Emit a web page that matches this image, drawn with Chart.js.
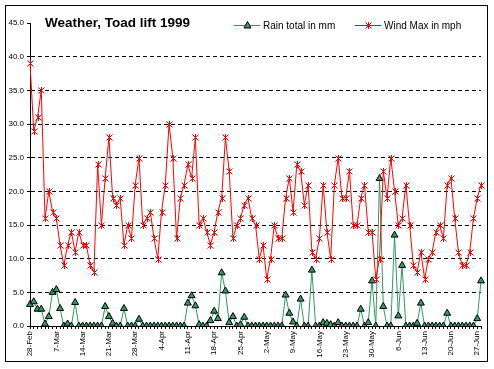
<!DOCTYPE html>
<html>
<head>
<meta charset="utf-8">
<script src="https://cdn.jsdelivr.net/npm/chart.js@4"></script>
<style>
  html, body { margin: 0; padding: 0; background: #fff; }
  canvas { display: block; }
</style>
</head>
<body>
<canvas id="weather" width="494" height="369" style="width:494px;height:369px"></canvas>
<script>
// daily readings, 28-Feb to 28-Jun 1999
const windMax = [39,29,31,35,16,20,17,16,12,9, 12,14,11,14,12,12,9,8,24,15,
  22,28,19,18,19,12,15,13,21,25, 15,16,17,13,10,17,21,30,25,13,
  19,21,24,22,28,15,16,14,12,14, 17,19,28,23,13,15,16,18,19,16,
  15,10,12,7,10,15,13,13,19,22, 17,24,23,18,21,11,10,13,21,14,
  10,21,25,19,19,23,15,15,19,21, 14,14,7,10,23,19,25,20,15,16,
  21,15,9,8,11,7,10,11,14,15, 13,21,22,16,11,9,9,11,16,19, 21];

const rainTotal = [3.2,3.6,2.5,2.5,0.3,1.4,5.0,5.4,2.6,0, 0.3,0,3.5,0,0,0,0,0,0,0,
  2.9,1.4,0.4,0,0,2.6,0,0,0,1.0, 0,0,0,0,0,0,0,0,0,0,
  0,0,3.4,4.5,3.0,0.2,0,0,0.8,2.2, 1.1,7.9,5.2,0.5,1.4,0,0.2,1.3,0,0,
  0,0,0,0,0,0,0,0,4.6,1.9, 0.6,0,4.0,0,0,8.3,0,0,0.5,0.4,
  0.2,0,0.5,0,0,0,0,0,2.5,0, 0.5,6.7,0,21.9,2.9,0,0,13.5,1.5,9.0,
  0,0,0,0.4,3.4,0,0,0,0,0, 0,1.9,0,0,0,0,0,0,0,1.1, 6.7];

const tickLabels = ['28-Feb','7-Mar','14-Mar','21-Mar','28-Mar','4-Apr','11-Apr','18-Apr','25-Apr',
  '2-May','9-May','16-May','23-May','30-May','6-Jun','13-Jun','20-Jun','27-Jun'];

const monthNames = ['Jan','Feb','Mar','Apr','May','Jun','Jul'];
const days = windMax.map((v, i) => {
  const d = new Date(1999, 1, 28 + i);
  return d.getDate() + '-' + monthNames[d.getMonth()];
});

const FONT = 'Arial, "Liberation Sans", sans-serif';
const GREEN = '#339966';
const RED = '#ff0000';

// excel style star marker: x with a vertical bar
function star(ctx, x, y) {
  x = Math.round(x) + 0.5;
  y = Math.round(y) + 0.5;
  ctx.beginPath();
  ctx.moveTo(x - 3, y - 3); ctx.lineTo(x + 3, y + 3);
  ctx.moveTo(x + 3, y - 3); ctx.lineTo(x - 3, y + 3);
  ctx.moveTo(x, y - 3.5); ctx.lineTo(x, y + 3.5);
  ctx.strokeStyle = RED;
  ctx.lineWidth = 1;
  ctx.stroke();
}

function triangle(ctx, x, y) {
  ctx.beginPath();
  ctx.moveTo(x, y - 4);
  ctx.lineTo(x + 3.5, y + 2.5);
  ctx.lineTo(x - 3.5, y + 2.5);
  ctx.closePath();
  ctx.fillStyle = GREEN;
  ctx.fill();
  ctx.strokeStyle = '#000';
  ctx.lineWidth = 1;
  ctx.stroke();
}

const decor = {
  id: 'decor',
  beforeDraw(chart) {
    const ctx = chart.ctx;
    ctx.save();
    ctx.fillStyle = '#fff';
    ctx.fillRect(0, 0, chart.width, chart.height);
    ctx.strokeStyle = '#000';
    ctx.lineWidth = 1;
    ctx.strokeRect(5.5, 5.5, 482, 356);
    ctx.restore();
  },
  afterDatasetsDraw(chart) {
    const ctx = chart.ctx;
    ctx.save();
    chart.getDatasetMeta(0).data.forEach((pt) => star(ctx, pt.x, pt.y));
    ctx.restore();
  },
  afterDraw(chart) {
    const ctx = chart.ctx;
    ctx.save();
    ctx.fillStyle = '#000';
    ctx.font = 'bold 13.5px ' + FONT;
    ctx.textBaseline = 'alphabetic';
    ctx.fillText('Weather, Toad lift 1999', 45, 27);

    ctx.font = '10px ' + FONT;
    ctx.textBaseline = 'middle';
    ctx.lineWidth = 1;
    // rain sample
    ctx.strokeStyle = GREEN;
    ctx.beginPath(); ctx.moveTo(234, 25.5); ctx.lineTo(260, 25.5); ctx.stroke();
    triangle(ctx, 247.5, 25.5);
    ctx.fillStyle = '#000';
    ctx.fillText(chart.data.datasets[1].label, 263, 26);
    // wind sample
    ctx.strokeStyle = RED;
    ctx.beginPath(); ctx.moveTo(355, 25.5); ctx.lineTo(381, 25.5); ctx.stroke();
    star(ctx, 368, 25);
    ctx.fillStyle = '#000';
    ctx.fillText(chart.data.datasets[0].label, 384, 26);
    ctx.restore();
  }
};

new Chart(document.getElementById('weather'), {
  type: 'line',
  data: {
    labels: days,
    datasets: [{
      label: 'Wind Max in mph',
      data: windMax,
      borderColor: RED,
      borderWidth: 1,
      pointRadius: 0,
      tension: 0,
      order: 0
    }, {
      label: 'Rain total in mm',
      data: rainTotal,
      borderColor: GREEN,
      borderWidth: 1,
      pointStyle: 'triangle',
      pointRadius: 4,
      pointBackgroundColor: GREEN,
      pointBorderColor: '#000',
      pointBorderWidth: 1,
      tension: 0,
      order: 1
    }]
  },
  options: {
    responsive: false,
    animation: false,
    events: [],
    layout: { padding: { left: 0, top: 23, right: 13, bottom: 0 } },
    plugins: {
      legend: { display: false },
      title: { display: false },
      tooltip: { enabled: false }
    },
    scales: {
      x: {
        offset: false,
        afterFit: (scale) => { scale.height = 43; },
        border: { color: '#000', width: 1 },
        grid: { drawOnChartArea: false, drawTicks: true, tickLength: 3, tickColor: '#000' },
        ticks: {
          autoSkip: false,
          minRotation: 90,
          maxRotation: 90,
          padding: 2,
          color: '#000',
          font: { family: FONT, size: 8 },
          callback: (v, i) => (i % 7 === 0 ? tickLabels[i / 7] : '')
        }
      },
      y: {
        min: 0,
        max: 45,
        afterFit: (scale) => { scale.width = 30; },
        border: { color: '#000', width: 1, dash: [4, 3] },
        grid: {
          color: (c) => (c.tick && (c.tick.value === 0 || c.tick.value === 45) ? 'rgba(0,0,0,0)' : '#000'),
          tickColor: '#000',
          tickLength: 3,
          tickBorderDash: []
        },
        ticks: {
          stepSize: 5,
          padding: 3,
          color: '#000',
          font: { family: FONT, size: 8 },
          callback: (v) => v.toFixed(1)
        }
      }
    }
  },
  plugins: [decor]
});
</script>
</body>
</html>
